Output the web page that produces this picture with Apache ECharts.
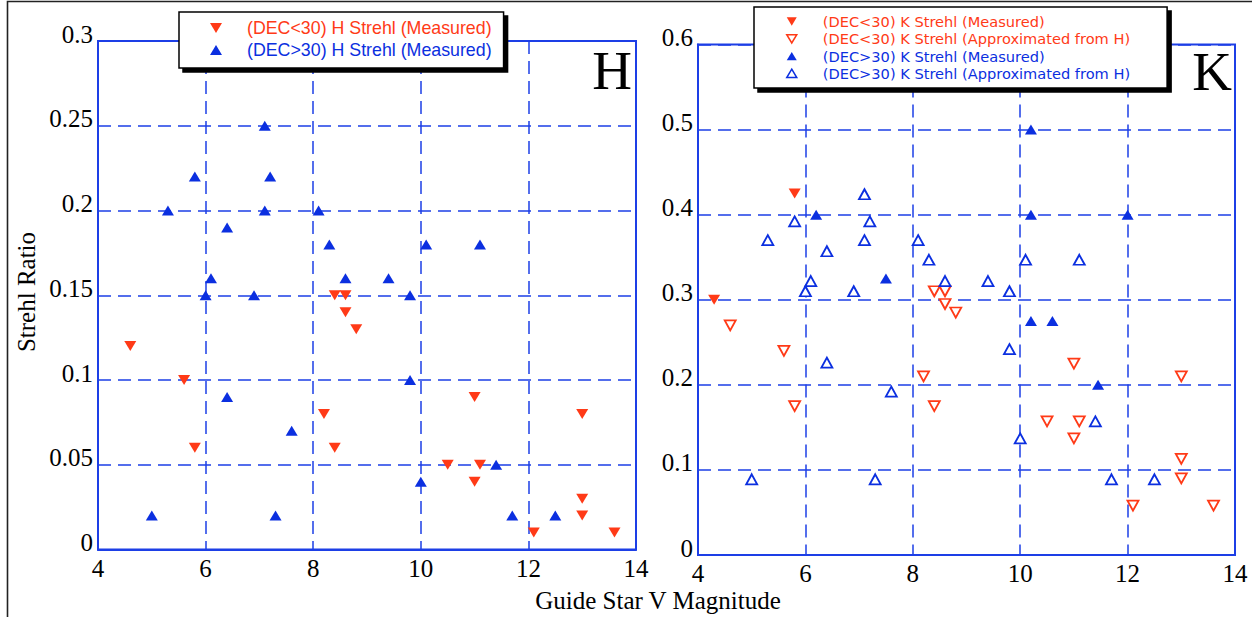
<!DOCTYPE html>
<html>
<head>
<meta charset="utf-8">
<script src="https://cdn.jsdelivr.net/npm/echarts@6/dist/echarts.min.js"></script>
<style>
  html, body { margin: 0; padding: 0; background: #fff; }
  #chart { width: 1252px; height: 617px; }
</style>
</head>
<body>
<div id="chart"></div>
<script>
// ---------------- data ----------------
const xTicks = [4, 6, 8, 10, 12, 14];
const hYTicks = [0, 0.05, 0.1, 0.15, 0.2, 0.25, 0.3];
const kYTicks = [0, 0.1, 0.2, 0.3, 0.4, 0.5, 0.6];

const seriesNames = {
  hLow: '(DEC<30) H Strehl (Measured)',
  hHigh: '(DEC>30) H Strehl (Measured)',
  kLowMeas: '(DEC<30) K Strehl (Measured)',
  kLowApprox: '(DEC<30) K Strehl (Approximated from H)',
  kHighMeas: '(DEC>30) K Strehl (Measured)',
  kHighApprox: '(DEC>30) K Strehl (Approximated from H)'
};

// [Guide star V magnitude, Strehl ratio]
const hLowDec = [[4.6,0.12],[5.6,0.10],[5.8,0.06],[8.2,0.08],[8.4,0.06],[8.4,0.15],[8.6,0.15],[8.6,0.14],[8.8,0.13],
  [11.0,0.09],[13.0,0.08],[10.5,0.05],[11.1,0.05],[11.0,0.04],[13.0,0.03],[13.0,0.02],[12.1,0.01],[13.6,0.01]];
const hHighDec = [[7.1,0.25],[5.8,0.22],[7.2,0.22],[5.3,0.20],[7.1,0.20],[8.1,0.20],[6.4,0.19],[8.3,0.18],[10.1,0.18],
  [11.1,0.18],[6.1,0.16],[8.6,0.16],[9.4,0.16],[6.0,0.15],[6.9,0.15],[9.8,0.15],[9.8,0.10],[6.4,0.09],[7.6,0.07],
  [5.0,0.02],[7.3,0.02],[10.0,0.04],[11.4,0.05],[11.7,0.02],[12.5,0.02]];
const kLowDecMeas = [[4.3,0.30],[5.8,0.425]];
const kLowDecApprox = [[4.6,0.27],[5.6,0.24],[5.8,0.175],[8.2,0.21],[8.4,0.175],[8.4,0.31],[8.6,0.31],[8.6,0.295],[8.8,0.285],
  [11.0,0.225],[13.0,0.21],[10.5,0.157],[11.1,0.157],[11.0,0.137],[13.0,0.113],[13.0,0.09],[12.1,0.058],[13.6,0.058]];
const kHighDecMeas = [[6.2,0.40],[7.5,0.325],[10.2,0.50],[10.2,0.40],[12.0,0.40],[10.2,0.275],[10.6,0.275],[11.45,0.20]];
const kHighDecApprox = [[5.3,0.37],[5.8,0.392],[6.1,0.322],[6.0,0.31],[6.4,0.357],[6.9,0.31],[7.1,0.424],[7.2,0.392],[7.1,0.37],
  [8.1,0.37],[8.3,0.347],[8.6,0.322],[9.4,0.322],[9.8,0.31],[10.1,0.347],[11.1,0.347],[9.8,0.242],[6.4,0.226],[7.6,0.192],
  [5.0,0.089],[7.3,0.089],[10.0,0.137],[11.4,0.157],[11.7,0.089],[12.5,0.089]];

// ---------------- styles ----------------
const RED = '#ff3a17';
const BLUE = '#0b2fe0';
const LINE_BLUE = '#1d3fe6';
const SERIF = '"Liberation Serif", "Times New Roman", serif';
const SANS = '"Liberation Sans", Arial, sans-serif';
const SANS_WIDE = '"DejaVu Sans", "Liberation Sans", sans-serif';
const ICON_UP = 'path://M6,0L12,10L0,10Z';
const ICON_DOWN = 'path://M0,0L12,0L6,10Z';

function xAxisCfg(gridIndex) {
  return {
    type: 'value', gridIndex, min: xTicks[0], max: xTicks[xTicks.length - 1], interval: xTicks[1] - xTicks[0],
    axisLine: { show: true, lineStyle: { color: LINE_BLUE, width: 2 } },
    axisTick: { show: false },
    axisLabel: { color: '#000', fontFamily: SERIF, fontSize: 25, margin: 6 },
    splitLine: { show: true, lineStyle: { color: LINE_BLUE, width: 1.5, type: [13, 7] } }
  };
}
function yAxisCfg(gridIndex, ticks) {
  return {
    type: 'value', gridIndex, min: ticks[0], max: ticks[ticks.length - 1], interval: +(ticks[1] - ticks[0]).toFixed(2),
    axisLine: { show: true, lineStyle: { color: LINE_BLUE, width: 2 } },
    axisTick: { show: false },
    axisLabel: { color: '#000', fontFamily: SERIF, fontSize: 25, margin: 5, verticalAlign: 'bottom', lineHeight: 14,
      formatter: v => String(+v.toFixed(2)) },
    splitLine: { show: true, lineStyle: { color: LINE_BLUE, width: 1.5, type: [13, 7] } }
  };
}

function scatter(name, data, gi, color, up, hollow) {
  return {
    name, type: 'scatter', data, xAxisIndex: gi, yAxisIndex: gi,
    symbol: 'triangle', symbolRotate: up ? 0 : 180,
    symbolSize: hollow ? [11, 10] : [12, 10],
    itemStyle: hollow ? { color: '#fff', borderColor: color, borderWidth: 1.8, opacity: 1 } : { color, opacity: 1 },
    emphasis: { disabled: true },
    z: 5
  };
}

function legendCfg(items, left, top, pad, itemW, itemH, font, fontSize, lineHeight, itemGap, textPadLeft) {
  return {
    orient: 'vertical', left, top, padding: pad, itemWidth: itemW, itemHeight: itemH, itemGap,
    backgroundColor: '#fff', borderColor: '#000', borderWidth: 1.5, borderRadius: 0,
    shadowColor: '#000', shadowBlur: 0, shadowOffsetX: 4, shadowOffsetY: 4,
    selectedMode: false,
    textStyle: { fontFamily: font, fontSize, lineHeight, padding: [0, 0, 0, textPadLeft] },
    data: items,
    z: 10
  };
}

const option = {
  backgroundColor: '#fff',
  animation: false,
  grid: [
    { left: 98, top: 41, width: 538, height: 508.5, show: true, borderColor: LINE_BLUE, borderWidth: 2, backgroundColor: 'transparent' },
    { left: 698, top: 44.5, width: 537, height: 510.5, show: true, borderColor: LINE_BLUE, borderWidth: 2, backgroundColor: 'transparent' }
  ],
  xAxis: [xAxisCfg(0), xAxisCfg(1)],
  yAxis: [yAxisCfg(0, hYTicks), yAxisCfg(1, kYTicks)],
  legend: [
    legendCfg([
      { name: seriesNames.hLow, icon: ICON_DOWN, textStyle: { color: RED } },
      { name: seriesNames.hHigh, icon: ICON_UP, textStyle: { color: BLUE } }
    ], 179, 12, [6, 12, 8, 31], 12, 10, SANS, 17.8, 20, 2, 20),
    legendCfg([
      { name: seriesNames.kLowMeas, icon: ICON_DOWN, textStyle: { color: RED } },
      { name: seriesNames.kLowApprox, icon: ICON_DOWN, textStyle: { color: RED }, itemStyle: { color: '#fff', borderColor: RED, borderWidth: 1.5 } },
      { name: seriesNames.kHighMeas, icon: ICON_UP, textStyle: { color: BLUE } },
      { name: seriesNames.kHighApprox, icon: ICON_UP, textStyle: { color: BLUE }, itemStyle: { color: '#fff', borderColor: BLUE, borderWidth: 1.5 } }
    ], 754, 7, [6, 37, 6, 32], 10, 9, SANS_WIDE, 14.6, 17, 0.3, 21)
  ],
  series: [
    scatter(seriesNames.hLow, hLowDec, 0, RED, false, false),
    scatter(seriesNames.hHigh, hHighDec, 0, BLUE, true, false),
    scatter(seriesNames.kLowMeas, kLowDecMeas, 1, RED, false, false),
    scatter(seriesNames.kLowApprox, kLowDecApprox, 1, RED, false, true),
    scatter(seriesNames.kHighMeas, kHighDecMeas, 1, BLUE, true, false),
    scatter(seriesNames.kHighApprox, kHighDecApprox, 1, BLUE, true, true)
  ],
  graphic: [
    { type: 'polyline', shape: { points: [[7.5, 617], [7.5, 1.5], [1252, 1.5]] }, style: { stroke: '#222', lineWidth: 1.6, fill: null }, z: 20 },
    { type: 'text', x: 632, y: 70, style: { text: 'H', font: '55px ' + SERIF, fill: '#000', align: 'right', verticalAlign: 'middle' }, z: 20 },
    { type: 'text', x: 1232, y: 71, style: { text: 'K', font: '55px ' + SERIF, fill: '#000', align: 'right', verticalAlign: 'middle' }, z: 20 },
    { type: 'text', x: 26, y: 292, rotation: Math.PI / 2, style: { text: 'Strehl Ratio', font: '25px ' + SERIF, fill: '#000', align: 'center', verticalAlign: 'middle' }, z: 20 },
    { type: 'text', x: 658, y: 600, style: { text: 'Guide Star V Magnitude', font: '25px ' + SERIF, fill: '#000', align: 'center', verticalAlign: 'middle' }, z: 20 }
  ]
};

const chart = echarts.init(document.getElementById('chart'), null, { renderer: 'svg' });
chart.setOption(option);
</script>
</body>
</html>
